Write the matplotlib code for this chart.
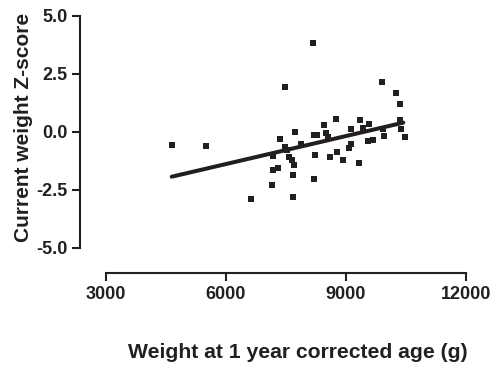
import matplotlib
matplotlib.use('Agg')
import matplotlib.pyplot as plt

# weight at 1 year corrected age (g) vs current weight Z-score
weight_1yr = [4665, 5508, 6625, 7158, 7175, 7300, 7192, 7358, 7483, 7525,
              7590, 7650, 7708, 7692, 7692, 7482, 7733, 7883, 8175, 8208,
              8275, 8233, 8208, 8458, 8500, 8550, 8600, 8767, 8780, 8942,
              9070, 9140, 9140, 9333, 9358, 9425, 9592, 9560, 9675, 9908,
              9930, 9958, 10267, 10358, 10358, 10390, 10491]
z_score = [-0.56, -0.62, -2.89, -2.30, -1.65, -1.55, -1.03, -0.33, -0.65, -0.79,
           -1.08, -1.22, -1.44, -1.87, -2.83, 1.94, 0.00, -0.52, 3.81, -0.15,
           -0.15, -1.00, -2.05, 0.28, -0.04, -0.23, -1.10, 0.55, -0.89, -1.24,
           -0.72, -0.54, 0.10, -1.36, 0.50, 0.17, 0.33, -0.39, -0.37, 2.16,
           0.10, -0.18, 1.65, 1.21, 0.50, 0.11, -0.23]

# regression line end points
fit_x = [4650, 10440]
fit_y = [-1.94, 0.39]

x_ticks = [3000, 6000, 9000, 12000]
y_ticks = [-5.0, -2.5, 0.0, 2.5, 5.0]

plt.rcParams['font.family'] = ['Liberation Sans', 'DejaVu Sans']
plt.rcParams['font.weight'] = 'bold'

W, H = 492, 369
fig = plt.figure(figsize=(W / 100, H / 100), dpi=100)
# axes box in pixels: x 105.7..465.7, y 15.7..247.7
ax = fig.add_axes([105.7 / W, (H - 247.7) / H, 360 / W, 232 / H])

ink = '#231f20'
ax.plot(fit_x, fit_y, color=ink, lw=2.9, solid_capstyle='round', zorder=2)
ax.plot(weight_1yr, z_score, 's', color=ink, ms=4.6, mew=0, zorder=3)

ax.set_xlim(3000, 12000)
ax.set_ylim(-5, 5)
ax.set_xticks(x_ticks)
ax.set_yticks(y_ticks)
ax.set_xticklabels([str(t) for t in x_ticks])
ax.set_yticklabels(['%.1f' % t for t in y_ticks])

for s in ['top', 'right']:
    ax.spines[s].set_visible(False)
ax.spines['left'].set_position(('outward', 18.3))
ax.spines['bottom'].set_position(('outward', 18.4))
for s in ['left', 'bottom']:
    ax.spines[s].set_linewidth(1.5)
    ax.spines[s].set_color(ink)
ax.tick_params(axis='both', length=6, width=1.5, color=ink, labelsize=13,
               labelcolor=ink, pad=3)

ax.set_xlabel('Weight at 1 year corrected age (g)', fontsize=15.2,
              fontweight='bold', color=ink, va='baseline')
ax.xaxis.set_label_coords(0.535, -0.474)
ax.set_ylabel('Current weight Z-score', fontsize=15.0, fontweight='bold',
              color=ink, va='baseline')
ax.yaxis.set_label_coords(-0.212, 0.518)

fig.savefig('out.png', dpi=100)
